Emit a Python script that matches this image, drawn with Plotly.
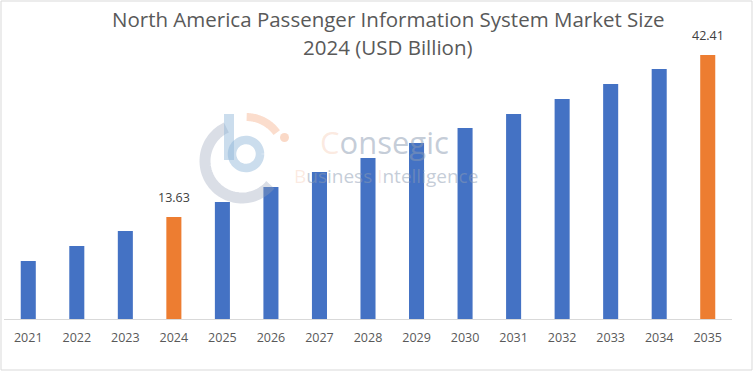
import numpy as np
import plotly.graph_objects as go

years = ["2021", "2022", "2023", "2024", "2025", "2026", "2027", "2028",
         "2029", "2030", "2031", "2032", "2033", "2034", "2035"]
market_size = [5.81, 8.48, 11.14, 13.63, 16.30, 18.96, 21.62, 24.11,
               26.78, 29.44, 31.93, 34.59, 37.26, 39.92, 42.41]
highlight_years = ["2024", "2035"]
title_line1 = "North America Passenger Information System Market Size"
title_line2 = "2024 (USD Billion)"

BLUE = "#4472C4"
ORANGE = "#ED7D31"
Y_MIN = -4.49
Y_MAX = 45.07

W, H = 754, 371
L, R, T, B = 4, 22, 40, 52
PW, PH = W - L - R, H - T - B


def px2paper(x, y):
    return (x - L) / PW, (H - B - y) / PH


colors = [ORANGE if y in highlight_years else BLUE for y in years]

fig = go.Figure()
fig.add_trace(go.Bar(
    x=years,
    y=[v - Y_MIN for v in market_size],
    base=Y_MIN,
    marker=dict(color=colors, line=dict(width=0)),
    width=0.31,
    hoverinfo="skip",
))

annotations = []
for i, (yr, v) in enumerate(zip(years, market_size)):
    if yr in highlight_years:
        annotations.append(dict(
            x=i, y=v, xref="x", yref="y", text=f"{v:.2f}",
            showarrow=False, yanchor="middle", yshift=19,
            font=dict(family="Open Sans", size=12.5, color="#404040"),
        ))

for txt, ypx in [(title_line1, 19), (title_line2, 47)]:
    px, py = px2paper(388, ypx)
    annotations.append(dict(
        x=px, y=py, xref="paper", yref="paper", text=txt, showarrow=False,
        xanchor="center", yanchor="middle",
        font=dict(family="Open Sans", size=20.5, color="#595959"),
    ))

wm_gray = "rgba(140,155,178,0.5)"
wm_orange = "rgba(240,160,120,0.45)"
px, py = px2paper(384, 142)
annotations.append(dict(
    x=px, y=py, xref="paper", yref="paper", showarrow=False, borderpad=0,
    text=f"<span style='color:{wm_orange}'>C</span>onsegic",
    font=dict(family="Open Sans", size=31, color=wm_gray),
))
px, py = px2paper(386, 176)
annotations.append(dict(
    x=px, y=py, xref="paper", yref="paper", showarrow=False, borderpad=0,
    text=(f"<span style='color:{wm_orange}'>B</span>usiness "
          f"<span style='color:{wm_orange}'>I</span>ntelligence"),
    font=dict(family="Open Sans", size=19, color=wm_gray),
))


def arc_path(cx, cy, r, a0, a1, n=40):
    ang = np.radians(np.linspace(a0, a1, n))
    pts = [px2paper(cx + r * np.cos(a), cy - r * np.sin(a)) for a in ang]
    return "M " + " L ".join(f"{x:.5f},{y:.5f}" for x, y in pts)


shapes = []
shapes.append(dict(type="path", xref="paper", yref="paper",
                   path=arc_path(242, 161, 37, 115, 320, 60),
                   line=dict(color="rgba(150,160,182,0.35)", width=11)))
shapes.append(dict(type="path", xref="paper", yref="paper",
                   path=arc_path(246, 155, 38, 89, 36),
                   line=dict(color="rgba(245,170,130,0.40)", width=8)))
x0, y0 = px2paper(280, 133)
x1, y1 = px2paper(289, 142)
shapes.append(dict(type="circle", xref="paper", yref="paper",
                   x0=x0, y0=y0, x1=x1, y1=y1,
                   fillcolor="rgba(245,170,130,0.45)", line=dict(width=0)))
xs, ys = px2paper(229, 114)
xe, ye = px2paper(229, 160)
shapes.append(dict(type="line", xref="paper", yref="paper",
                   x0=xs, y0=ys, x1=xe, y1=ye,
                   line=dict(color="rgba(140,180,215,0.45)", width=10)))
shapes.append(dict(type="path", xref="paper", yref="paper",
                   path=arc_path(246, 154, 14, 0, 360, 60),
                   line=dict(color="rgba(140,180,215,0.45)", width=8.5)))

x0, y0 = px2paper(1, 1)
x1, y1 = px2paper(752, 370)
shapes.append(dict(type="rect", xref="paper", yref="paper",
                   x0=x0, y0=y0, x1=x1, y1=y1,
                   line=dict(color="#d9d9d9", width=1)))

fig.update_layout(
    width=W, height=H,
    margin=dict(l=L, r=R, t=T, b=B),
    paper_bgcolor="white", plot_bgcolor="white",
    showlegend=False,
    annotations=annotations,
    shapes=shapes,
    xaxis=dict(
        type="category", range=[-0.5, len(years) - 0.5],
        showgrid=False, zeroline=False,
        showline=True, linecolor="#d9d9d9", linewidth=1,
        ticks="", ticklabelstandoff=7,
        tickfont=dict(family="Open Sans", size=12.5, color="#595959"),
    ),
    yaxis=dict(range=[Y_MIN, Y_MAX], visible=False, showgrid=False,
               zeroline=False),
    bargap=0.69,
)

fig.write_html(
    "out.html",
    config={"displayModeBar": False},
    post_script="document.body.style.margin='0px';"
                "document.body.style.overflow='hidden';",
)
